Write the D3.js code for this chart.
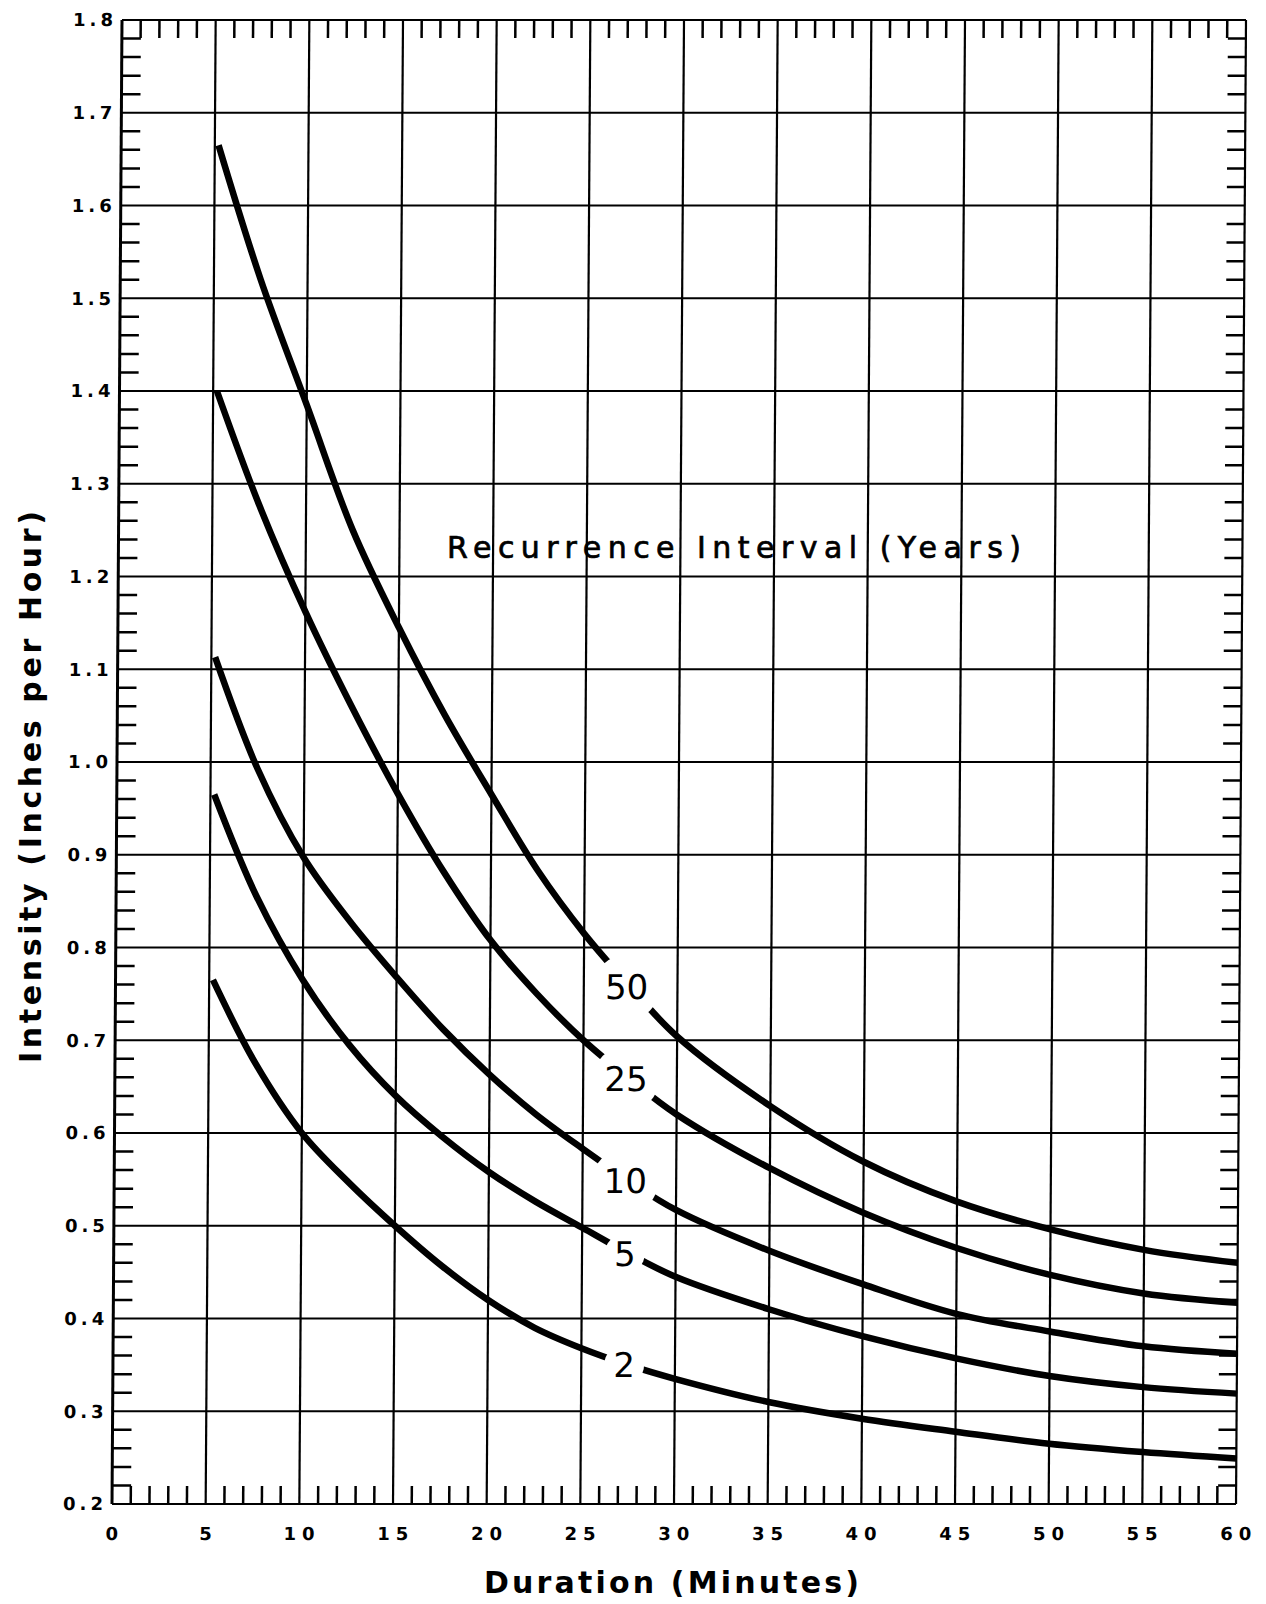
<!DOCTYPE html>
<html>
<head>
<meta charset="utf-8">
<script src="https://cdn.jsdelivr.net/npm/d3@7"></script>
<style>
body { margin: 0; background: #fff; }
svg text { font-family: "DejaVu Sans", sans-serif; fill: #000; }
</style>
</head>
<body>
<div id="chart"></div>
<script>
// duration (minutes) shared by all curves, intensity (inches per hour) per recurrence interval
var durations   = [5.2, 7.5, 10, 12.5, 15, 17.5, 20, 22.5, 25, 27.5, 30, 35, 40, 45, 50, 55, 60]
var intensity50 = [1.665, 1.52, 1.385, 1.25, 1.145, 1.05, 0.965, 0.883, 0.815, 0.757, 0.704, 0.629, 0.569, 0.526, 0.496, 0.474, 0.46]
var intensity25 = [1.40, 1.277, 1.162, 1.06, 0.966, 0.881, 0.808, 0.75, 0.70, 0.658, 0.62, 0.562, 0.514, 0.476, 0.447, 0.427, 0.417]
var intensity10 = [1.113, 0.993, 0.897, 0.828, 0.768, 0.712, 0.663, 0.62, 0.583, 0.548, 0.517, 0.473, 0.437, 0.405, 0.386, 0.37, 0.362]
var intensity5  = [0.965, 0.855, 0.765, 0.695, 0.64, 0.596, 0.558, 0.526, 0.498, 0.47, 0.445, 0.41, 0.381, 0.357, 0.338, 0.326, 0.319]
var intensity2  = [0.765, 0.675, 0.60, 0.547, 0.50, 0.457, 0.42, 0.39, 0.368, 0.35, 0.335, 0.31, 0.292, 0.278, 0.265, 0.256, 0.249]
var intervals = ['50', '25', '10', '5', '2']
var labelDuration = 27.5
var xTickValues = d3.range(0, 61, 5)
var yTickValues = d3.range(2, 19).map(function(d){ return d / 10 })

var series = [intensity50, intensity25, intensity10, intensity5, intensity2]

var W = 1266, H = 1604
var pLeft = 112, pRight = 1236, pTop = 20, pBottom = 1504
var x = d3.scaleLinear().domain([0, 60]).range([pLeft, pRight])
var y = d3.scaleLinear().domain([0.2, 1.8]).range([pBottom, pTop])

var svg = d3.select('#chart').append('svg').attr('width', W).attr('height', H)
svg.append('rect').attr('width', W).attr('height', H).attr('fill', '#fff')

// the scanned sheet leans a little: top edge sits ~10px right of the bottom edge
var skew = -Math.atan(10 / (pBottom - pTop)) * 180 / Math.PI
var g = svg.append('g').attr('transform', 'translate(0,' + pBottom + ') skewX(' + skew + ') translate(0,' + (-pBottom) + ')')

// grid
g.selectAll('.vgrid').data(xTickValues).enter().append('line')
    .attr('class', 'vgrid')
    .attr('x1', function(d){ return x(d) }).attr('x2', function(d){ return x(d) })
    .attr('y1', pTop).attr('y2', pBottom)
    .attr('stroke', '#000').attr('stroke-width', function(d){ return d === 0 ? 3 : 2.2 })
g.selectAll('.hgrid').data(yTickValues).enter().append('line')
    .attr('class', 'hgrid')
    .attr('x1', pLeft).attr('x2', pRight)
    .attr('y1', function(d){ return y(d) }).attr('y2', function(d){ return y(d) })
    .attr('stroke', '#000').attr('stroke-width', 2.2)

// minor ticks: every minute on top/bottom, every 0.02 on left/right
var minorX = d3.range(1, 60).filter(function(d){ return d % 5 !== 0 })
var minorY = d3.range(10, 90).filter(function(d){ return d % 5 !== 0 }).map(function(d){ return d / 50 })
var tickLen = 18
g.selectAll('.tb').data(minorX).enter().append('line')
    .attr('x1', function(d){ return x(d) }).attr('x2', function(d){ return x(d) })
    .attr('y1', pBottom).attr('y2', pBottom - tickLen)
    .attr('stroke', '#000').attr('stroke-width', 2.5)
g.selectAll('.tt').data(minorX).enter().append('line')
    .attr('x1', function(d){ return x(d) }).attr('x2', function(d){ return x(d) })
    .attr('y1', pTop).attr('y2', pTop + tickLen)
    .attr('stroke', '#000').attr('stroke-width', 2.5)
g.selectAll('.tl').data(minorY).enter().append('line')
    .attr('x1', pLeft).attr('x2', pLeft + tickLen + 1)
    .attr('y1', function(d){ return y(d) }).attr('y2', function(d){ return y(d) })
    .attr('stroke', '#000').attr('stroke-width', 2.5)
g.selectAll('.tr').data(minorY).enter().append('line')
    .attr('x1', pRight).attr('x2', pRight - tickLen)
    .attr('y1', function(d){ return y(d) }).attr('y2', function(d){ return y(d) })
    .attr('stroke', '#000').attr('stroke-width', 2.5)

// y tick labels
g.selectAll('.ylab').data(yTickValues).enter().append('text')
    .attr('x', pLeft - 5).attr('y', function(d){ return y(d) + 6.5 })
    .attr('text-anchor', 'end')
    .style('font-size', '18px').style('font-weight', 'bold').style('letter-spacing', '4px')
    .text(function(d){ return d.toFixed(1) })

// x tick labels
g.selectAll('.xlab').data(xTickValues).enter().append('text')
    .attr('x', function(d){ return x(d) + 3 }).attr('y', pBottom + 36)
    .attr('text-anchor', 'middle')
    .style('font-size', '18px').style('font-weight', 'bold').style('letter-spacing', '6px')
    .text(function(d){ return d })

// gaps in the curves where the interval labels sit
var labelPos = series.map(function(vals, i){
    var j = durations.indexOf(labelDuration)
    return { name: intervals[i], cx: x(labelDuration) - 4, cy: y(vals[j]) }
})
var mask = svg.append('defs').append('mask').attr('id', 'labelgap').attr('maskUnits', 'userSpaceOnUse')
    .attr('x', 0).attr('y', 0).attr('width', W).attr('height', H)
mask.append('rect').attr('x', 0).attr('y', 0).attr('width', W).attr('height', H).attr('fill', '#fff')
mask.selectAll('circle').data(labelPos).enter().append('circle')
    .attr('cx', function(d){ return d.cx }).attr('cy', function(d){ return d.cy })
    .attr('r', function(d){ return d.name.length > 1 ? 33 : 20 })
    .attr('fill', '#000')

var line = d3.line()
    .x(function(d){ return x(d[0]) })
    .y(function(d){ return y(d[1]) })
    .curve(d3.curveCatmullRom.alpha(0.5))

g.append('g').attr('mask', 'url(#labelgap)')
    .selectAll('path').data(series).enter().append('path')
    .attr('d', function(vals){ return line(durations.map(function(t, k){ return [t, vals[k]] })) })
    .attr('fill', 'none').attr('stroke', '#000').attr('stroke-width', 6.5)

g.selectAll('.clab').data(labelPos).enter().append('text')
    .attr('x', function(d){ return d.cx }).attr('y', function(d){ return d.cy + 12 })
    .attr('text-anchor', 'middle')
    .style('font-size', '34px')
    .text(function(d){ return d.name })

// titles
svg.append('text')
    .attr('x', 447).attr('y', 558)
    .attr('textLength', 574).attr('lengthAdjust', 'spacing')
    .style('font-size', '30px').style('stroke', '#000').style('stroke-width', '0.7px')
    .text('Recurrence Interval (Years)')

svg.append('text')
    .attr('x', 484).attr('y', 1593)
    .attr('textLength', 375).attr('lengthAdjust', 'spacing')
    .style('font-size', '30px').style('font-weight', 'bold')
    .text('Duration (Minutes)')

svg.append('text')
    .attr('transform', 'translate(41,1063) rotate(-90)')
    .attr('textLength', 552).attr('lengthAdjust', 'spacing')
    .style('font-size', '30px').style('font-weight', 'bold')
    .text('Intensity (Inches per Hour)')
</script>
</body>
</html>
